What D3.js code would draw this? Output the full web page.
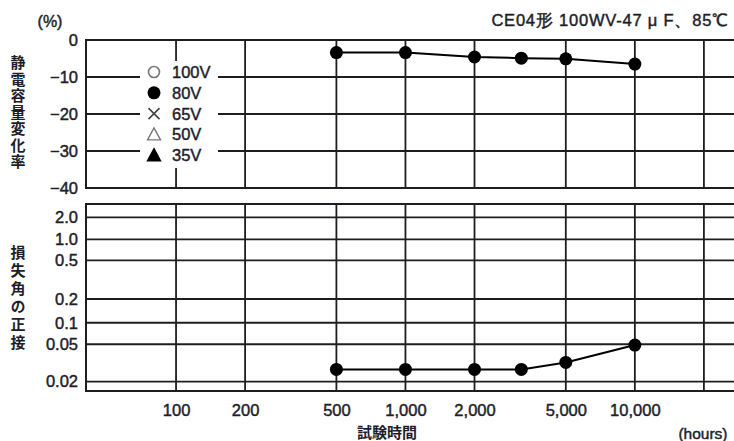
<!DOCTYPE html>
<html>
<head>
<meta charset="utf-8">
<script src="https://cdn.jsdelivr.net/npm/d3@7"></script>
<style>
  body { margin: 0; background: #fff; }
  svg text { font-family: "Liberation Sans", Arial, sans-serif; fill: #1e1e2a; stroke: #1e1e2a; stroke-width: 0.45px; }
  svg text.jp { font-family: "Noto Sans CJK JP", sans-serif; stroke: none; }
</style>
</head>
<body>
<svg id="chart" width="734" height="441"></svg>
<script>
// *************** DATA ***************
const hours = [500, 1000, 2000, 3200, 5000, 10000];
const capChange80V = [-3.4, -3.4, -4.6, -4.9, -5.1, -6.5];
const tanDelta80V = [0.027, 0.027, 0.027, 0.027, 0.032, 0.049];

const xTickValues = [100, 200, 500, 1000, 2000, 5000, 10000];
const xGridValues = [100, 200, 500, 1000, 2000, 5000, 10000, 20000];
const capTicks = [0, -10, -20, -30, -40];
const tanTicks = [2.0, 1.0, 0.5, 0.2, 0.1, 0.05, 0.02];
const tanTickLabels = ["2.0", "1.0", "0.5", "0.2", "0.1", "0.05", "0.02"];

const legendLabels = ["100V", "80V", "65V", "50V", "35V"];
const legendSymbols = ["circleOpen", "circle", "cross", "triangleOpen", "triangle"];

const titleText = "CE04形  100WV-47 μ F、85℃";
const capLabel = "静電容量変化率";
const tanLabel = "損失角の正接";

// *************** LAYOUT ***************
const left = 86, right = 736;
const topPanel = { y0: 40, y1: 188 };
const botPanel = { y0: 204, y1: 391 };
// the tan δ grid is not evenly spaced in the original, so place each tick
const tanTickFrac = [0.071, 0.189, 0.301, 0.508, 0.635, 0.750, 0.950];

const ink = "#1e1e22";
const svg = d3.select("#chart");

const x = d3.scaleLog()
            .domain([40.5, 27600])
            .range([left, right]);

const yCap = d3.scaleLinear()
               .domain([0, -40])
               .range([topPanel.y0, topPanel.y1]);

const yTan = d3.scaleLog()
               .domain(tanTicks)
               .range(tanTickFrac.map(f => botPanel.y0 + f * (botPanel.y1 - botPanel.y0)));

// *************** GRID ***************
function drawPanel(panel, yValues, yScale) {
  const g = svg.append("g");
  g.selectAll(".h")
   .data(yValues)
   .join("line")
   .attr("x1", left).attr("x2", right)
   .attr("y1", d => yScale(d)).attr("y2", d => yScale(d))
   .attr("stroke", ink).attr("stroke-width", 1.8);
  g.selectAll(".v")
   .data(xGridValues)
   .join("line")
   .attr("x1", d => x(d)).attr("x2", d => x(d))
   .attr("y1", panel.y0).attr("y2", panel.y1)
   .attr("stroke", ink).attr("stroke-width", 1.8);
  g.append("rect")
   .attr("x", left).attr("y", panel.y0)
   .attr("width", right - left).attr("height", panel.y1 - panel.y0)
   .attr("fill", "none").attr("stroke", ink).attr("stroke-width", 2);
  return g;
}

drawPanel(topPanel, capTicks, yCap);
drawPanel(botPanel, tanTicks, yTan);

// *************** AXES ***************
const fontSize = "16.5px";

svg.append("g")
   .attr("transform", `translate(${left},0)`)
   .call(d3.axisLeft(yCap)
          .tickValues(capTicks)
          .tickSize(0)
          .tickPadding(8)
          .tickFormat(d => d === 0 ? "0" : "−" + Math.abs(d)))
   .call(g => g.select(".domain").remove())
   .selectAll("text")
   .attr("font-size", fontSize)
   .attr("fill", ink);

svg.append("g")
   .attr("transform", `translate(${left},0)`)
   .call(d3.axisLeft(yTan)
          .tickValues(tanTicks)
          .tickSize(0)
          .tickPadding(8)
          .tickFormat((d, i) => tanTickLabels[i]))
   .call(g => g.select(".domain").remove())
   .selectAll("text")
   .attr("font-size", fontSize)
   .attr("fill", ink);

svg.append("g")
   .attr("transform", `translate(0,${botPanel.y1})`)
   .call(d3.axisBottom(x)
          .tickValues(xTickValues)
          .tickSize(0)
          .tickPadding(13)
          .tickFormat(d3.format(",")))
   .call(g => g.select(".domain").remove())
   .selectAll("text")
   .attr("font-size", fontSize)
   .attr("fill", ink);

// *************** LABELS ***************
svg.append("text")
   .attr("x", 729).attr("y", 26)
   .attr("text-anchor", "end")
   .attr("font-size", "16.5px")
   .style("letter-spacing", "0.8px")
   .text(titleText);

svg.append("text")
   .attr("x", 50).attr("y", 27)
   .attr("text-anchor", "middle")
   .attr("font-size", "16px")
   .text("(%)");

function verticalLabel(text, cx, startY, spacing) {
  svg.append("text")
     .attr("class", "jp")
     .attr("x", cx)
     .attr("y", startY)
     .style("writing-mode", "vertical-rl")
     .style("text-orientation", "upright")
     .style("letter-spacing", spacing + "px")
     .attr("font-size", "15px")
     .attr("font-weight", 700)
     .text(text);
}

verticalLabel(capLabel, 18, 55, 1.5);
verticalLabel(tanLabel, 18, 245, 3);

svg.append("text")
   .attr("class", "jp")
   .attr("x", 387).attr("y", 431)
   .attr("text-anchor", "middle")
   .attr("dominant-baseline", "central")
   .attr("font-size", "15px")
   .attr("font-weight", 700)
   .text("試験時間");

svg.append("text")
   .attr("x", 703).attr("y", 439)
   .attr("text-anchor", "middle")
   .attr("font-size", "15.5px")
   .text("(hours)");

// *************** DATA SERIES ***************
function drawSeries(values, yScale) {
  const pts = hours.map((h, i) => [x(h), yScale(values[i])]);
  svg.append("path")
     .attr("d", d3.line()(pts))
     .attr("fill", "none")
     .attr("stroke", "#000")
     .attr("stroke-width", 2);
  svg.append("g")
     .selectAll("circle")
     .data(pts)
     .join("circle")
     .attr("cx", d => d[0])
     .attr("cy", d => d[1])
     .attr("r", 6.5)
     .attr("fill", "#000");
}

drawSeries(capChange80V, yCap);
drawSeries(tanDelta80V, yTan);

// *************** LEGEND ***************
const legend = svg.append("g");
legend.append("rect")
      .attr("x", 140).attr("y", 61)
      .attr("width", 78).attr("height", 107)
      .attr("fill", "#fff");

const legendY = i => 72 + i * 20.8;
const symX = 154;

legendSymbols.forEach((s, i) => {
  const cy = legendY(i);
  if (s === "circleOpen") {
    legend.append("circle").attr("cx", symX).attr("cy", cy).attr("r", 5.5)
          .attr("fill", "none").attr("stroke", "#777").attr("stroke-width", 1.6);
  } else if (s === "circle") {
    legend.append("circle").attr("cx", symX).attr("cy", cy).attr("r", 6.5)
          .attr("fill", "#000");
  } else if (s === "cross") {
    legend.append("path")
          .attr("d", `M${symX - 5.5},${cy - 5.5}L${symX + 5.5},${cy + 5.5}M${symX - 5.5},${cy + 5.5}L${symX + 5.5},${cy - 5.5}`)
          .attr("stroke", "#444").attr("stroke-width", 1.6);
  } else {
    const tri = `M${symX},${cy - 6.5}L${symX + 6.5},${cy + 5.5}L${symX - 6.5},${cy + 5.5}Z`;
    legend.append("path")
          .attr("d", tri)
          .attr("fill", s === "triangle" ? "#000" : "none")
          .attr("stroke", s === "triangle" ? "#000" : "#777")
          .attr("stroke-width", 1.4);
  }
  legend.append("text")
        .attr("x", 172).attr("y", cy)
        .attr("dominant-baseline", "central")
        .attr("font-size", fontSize)
        .text(legendLabels[i]);
});
</script>
</body>
</html>
